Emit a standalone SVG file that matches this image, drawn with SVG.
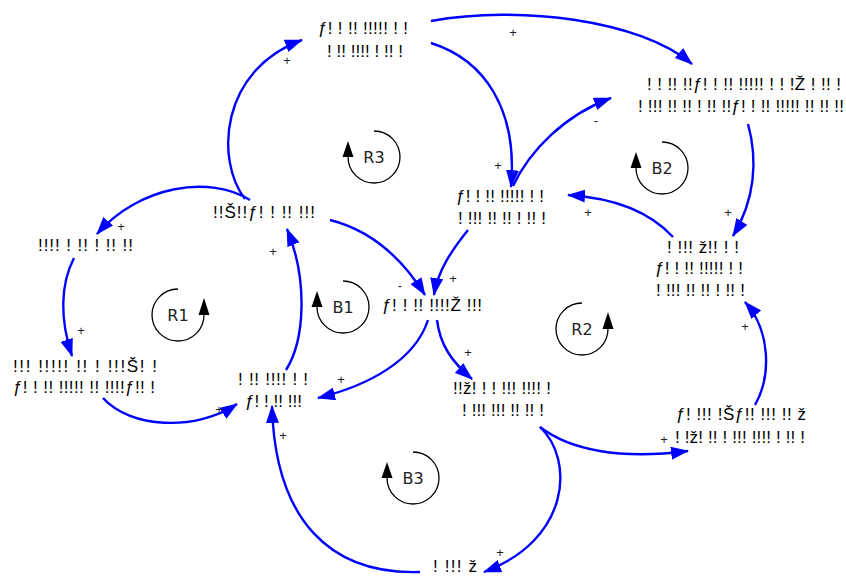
<svg xmlns="http://www.w3.org/2000/svg" width="846" height="576" viewBox="0 0 846 576">
<style>
.conn{fill:none;stroke:#0000ff;stroke-width:2.4;marker-end:url(#ah)}
.lbl{font-family:"Liberation Sans",Arial,sans-serif;font-size:13px;fill:#222;text-anchor:middle}
.node text{font-family:"Liberation Sans",Arial,sans-serif;font-size:17px;fill:#000}
.loop path{fill:none;stroke:#000;stroke-width:1.3}
.loop polygon{fill:#000}
.loop text{font-family:"DejaVu Sans",Verdana,sans-serif;font-size:16px;fill:#222;text-anchor:middle}
</style>
<defs>
<marker id="ah" markerUnits="userSpaceOnUse" markerWidth="18" markerHeight="13" refX="17" refY="6.5" orient="auto">
<path d="M0,0 L18,6.5 L0,13 z" fill="#0000ff"/>
</marker>
</defs>
<rect width="846" height="576" fill="#fff"/>

<g id="connectors">
<path class="conn" d="M431,21 C520,5 640,20 692,64"/>
<path class="conn" d="M431,43 C485,60 518,110 511,187"/>
<path class="conn" d="M513,186 C530,150 565,115 611,98"/>
<path class="conn" d="M748,124 C758,160 755,200 733,236"/>
<path class="conn" d="M673,237 C650,212 615,198 568,195"/>
<path class="conn" d="M755,405 C772,375 770,330 745,302"/>
<path class="conn" d="M540,427 C570,450 620,460 688,451"/>
<path class="conn" d="M540,427 C575,460 570,540 484,572"/>
<path class="conn" d="M420,572 C330,575 275,520 272,406"/>
<path class="conn" d="M103,398 C130,428 195,432 237,404"/>
<path class="conn" d="M74,258 C60,285 60,320 72,356"/>
<path class="conn" d="M250,200 C210,175 140,185 97,234"/>
<path class="conn" d="M245,199 C215,160 220,70 302,40"/>
<path class="conn" d="M330,220 C370,230 400,255 425,295"/>
<path class="conn" d="M468,230 C452,250 438,270 434,295"/>
<path class="conn" d="M428,320 C415,360 370,385 318,398"/>
<path class="conn" d="M437,320 C440,345 452,362 472,379"/>
<path class="conn" d="M286,370 C305,340 308,280 287,229"/>
<text class="lbl" x="513" y="37">+</text>
<text class="lbl" x="498" y="170">+</text>
<text class="lbl" x="596" y="125">-</text>
<text class="lbl" x="728" y="217">+</text>
<text class="lbl" x="588" y="217">+</text>
<text class="lbl" x="745" y="331">+</text>
<text class="lbl" x="664" y="444">+</text>
<text class="lbl" x="500" y="557">+</text>
<text class="lbl" x="283" y="440">+</text>
<text class="lbl" x="219" y="414">+</text>
<text class="lbl" x="81" y="335">+</text>
<text class="lbl" x="121" y="231">+</text>
<text class="lbl" x="287" y="65">+</text>
<text class="lbl" x="400" y="290">-</text>
<text class="lbl" x="453" y="283">+</text>
<text class="lbl" x="341" y="384">+</text>
<text class="lbl" x="468" y="357">+</text>
<text class="lbl" x="273" y="256">+</text>
</g>

<g id="n1" class="node">
<text x="318" y="34" textLength="90">ƒ! ! !! !!!!! ! !</text>
<text x="327" y="57" textLength="76">! !! !!!! ! !! !</text>
</g>
<g id="n2" class="node">
<text x="647" y="90" textLength="194">! ! !! !!ƒ! ! !! !!!!! ! ! !Ž ! !! !</text>
<text x="638" y="112" textLength="206">! !!! !! !! ! !! !!ƒ! ! !! !!!!! !! !! !!</text>
</g>
<g id="n3" class="node">
<text x="456" y="202" textLength="88">ƒ! ! !! !!!!! ! !</text>
<text x="458" y="224" textLength="88">! !!! !! !! ! !! !</text>
</g>
<g id="n4" class="node">
<text x="213" y="218" textLength="102">!!Š!!ƒ! ! !! !!!</text>
</g>
<g id="n5" class="node">
<text x="38" y="251" textLength="95">!!!! ! !! ! !! !!</text>
</g>
<g id="n6" class="node">
<text x="667" y="253" textLength="72">! !!! ž!! ! !</text>
<text x="655" y="274" textLength="88">ƒ! ! !! !!!!! ! !</text>
<text x="656" y="296" textLength="89">! !!! !! !! ! !! !</text>
</g>
<g id="n7" class="node">
<text x="382" y="311" textLength="100">ƒ! ! !! !!!!Ž !!!</text>
</g>
<g id="n8" class="node">
<text x="13" y="372" textLength="144">!!! !!!!! !! ! !!!Š! !</text>
<text x="13" y="393" textLength="142">ƒ! ! !! !!!!! !! !!!!ƒ!! !</text>
</g>
<g id="n9" class="node">
<text x="238" y="385" textLength="70">! !! !!!! ! !</text>
<text x="245" y="407" textLength="57">ƒ! ! !! !!!</text>
</g>
<g id="n10" class="node">
<text x="453" y="394" textLength="98">!!ž! ! ! !!! !!!! !</text>
<text x="462" y="416" textLength="82">! !!! !!! !! !! !</text>
</g>
<g id="n11" class="node">
<text x="676" y="420" textLength="130">ƒ! !!! !Šƒ!! !!! !! ž</text>
<text x="675" y="443" textLength="130">! !ž! !! ! !!! !!!! ! !! !</text>
</g>
<g id="n12" class="node">
<text x="433" y="572" textLength="44">! !!! ž</text>
</g>

<g id="loopR3" class="loop">
<path d="M374,131 A26,26 0 1 1 348,157"/>
<polygon points="348,141 342.5,157 353.5,157"/>
<text x="374" y="163">R3</text>
</g>
<g id="loopB2" class="loop">
<path d="M662,142 A26,26 0 1 1 636,168"/>
<polygon points="636,152 630.5,168 641.5,168"/>
<text x="662" y="174">B2</text>
</g>
<g id="loopR1" class="loop">
<path d="M178,289 A26,26 0 1 0 204,315"/>
<polygon points="204,298 198.5,315 209.5,315"/>
<text x="178" y="321">R1</text>
</g>
<g id="loopB1" class="loop">
<path d="M343,281 A26,26 0 1 1 317,307"/>
<polygon points="317,291 311.5,307 322.5,307"/>
<text x="343" y="313">B1</text>
</g>
<g id="loopR2" class="loop">
<path d="M582,303 A26,26 0 1 0 608,329"/>
<polygon points="608,312 602.5,329 613.5,329"/>
<text x="582" y="335">R2</text>
</g>
<g id="loopB3" class="loop">
<path d="M413,452 A26,26 0 1 1 387,478"/>
<polygon points="387,462 381.5,478 392.5,478"/>
<text x="413" y="484">B3</text>
</g>
</svg>
